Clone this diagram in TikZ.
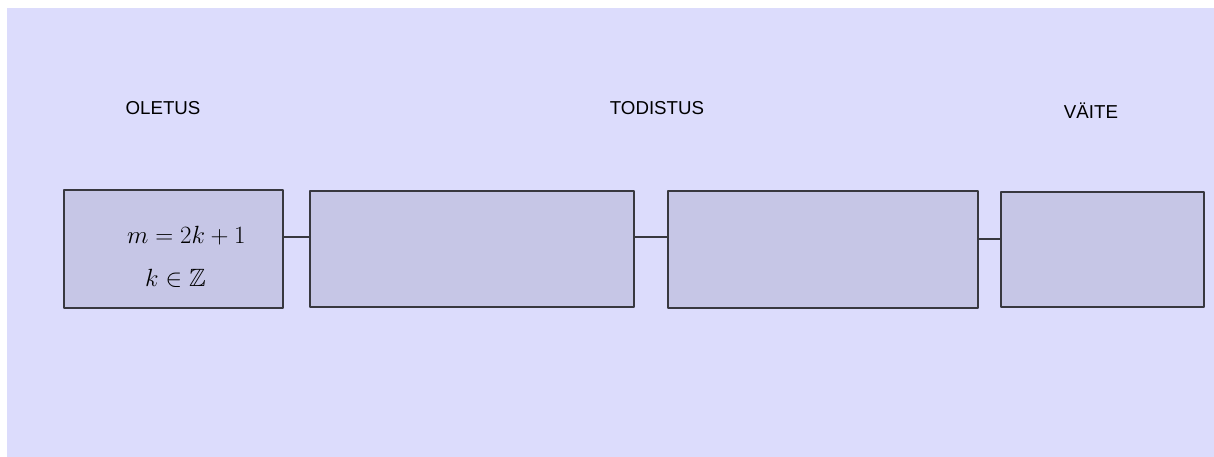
\documentclass[tikz,border=0pt]{standalone}
\usepackage{fontspec}
\usepackage{amssymb}
\setsansfont{Liberation Sans}
\begin{document}
\begin{tikzpicture}[x=1pt,y=-1pt,
  box/.style={draw=edge, line width=2.9pt, fill=boxfill, line join=round},
  conn/.style={draw=edge, line width=2.9pt},
  head/.style={font=\sffamily\fontsize{18.7}{21}\selectfont, inner sep=0pt},
  mathtxt/.style={font=\fontsize{25}{30}\selectfont, inner sep=0pt, anchor=base west}]
\definecolor{bg}{HTML}{DCDCFC}
\definecolor{boxfill}{HTML}{C6C6E6}
\definecolor{edge}{HTML}{38383F}
\useasboundingbox (0,0) rectangle (1214,457);
\fill[bg] (7,8) rectangle (1214,457);
\node[head] (h1) at (163,108) {OLETUS};
\node[head] (h2) at (657,108) {TODISTUS};
\node[head] (h3) at (1091,111) {VÄITE};
\path[box] (64,190) rectangle (283,308);
\coordinate (b1e) at (283,237);
\path[box] (310,191) rectangle (634,307);
\coordinate (b2w) at (310,237); \coordinate (b2e) at (634,237);
\path[box] (668,191) rectangle (978,308);
\coordinate (b3w) at (668,237); \coordinate (b3e) at (978,239);
\path[box] (1001,192) rectangle (1204,307);
\coordinate (b4w) at (1001,239);
\draw[conn] (b1e) -- (b2w);
\draw[conn] (b2e) -- (b3w);
\draw[conn] (b3e) -- (b4w);
\node[mathtxt] (l1) at (127,243) {$m=2k+1$};
\node[mathtxt] (l2) at (145,286) {$k\in\mathbb{Z}$};
\end{tikzpicture}
\end{document}
